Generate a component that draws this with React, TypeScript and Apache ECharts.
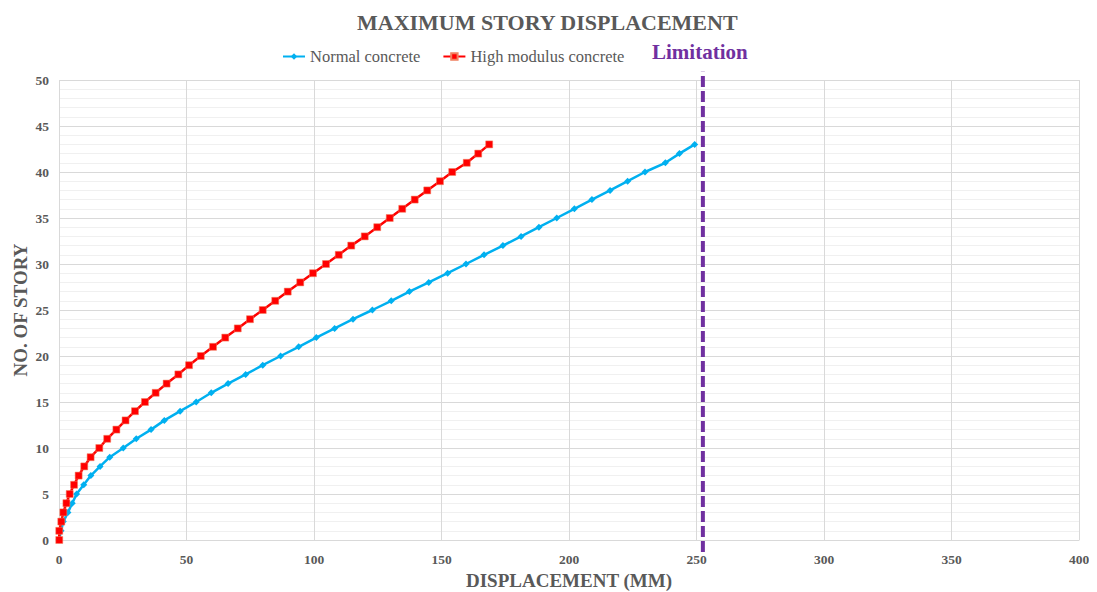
import React, { useEffect, useRef } from "react";
import * as echarts from "echarts";

const stories = [0,1,2,3,4,5,6,7,8,9,10,11,12,13,14,15,16,17,18,19,20,21,22,23,24,25,26,27,28,29,30,31,32,33,34,35,36,37,38,39,40,41,42,43];
const normalConcrete = [0,0.8,1.7,3.5,5.2,6.9,9.7,12.5,16.1,19.9,25.2,30.3,36.1,41.3,47.5,53.8,59.7,66.3,73.2,79.9,86.9,94.0,100.9,108.1,115.3,122.9,130.3,137.4,145.0,152.4,159.6,166.7,174.1,181.2,188.2,195.2,202.1,209.0,216.1,223.0,229.8,237.8,243.3,249.3];
const highModulus = [0.1,0.1,0.9,1.7,2.9,4.2,5.9,7.7,9.9,12.4,15.8,18.9,22.5,26.1,29.8,33.7,37.9,42.2,46.8,51.0,55.6,60.4,65.2,70.1,74.9,79.9,84.8,89.7,94.6,99.6,104.7,109.7,114.6,119.9,124.8,129.7,134.6,139.5,144.4,149.4,154.2,159.9,164.4,168.7];
const limitationValue = 252.5;
const limitationSpan = [-1.3, 50.9];

const SERIF = "'Liberation Serif', 'Times New Roman', serif";
const GREY = "#595959";

export default function App() {
  const ref = useRef<HTMLDivElement>(null);
  useEffect(() => {
    if (!ref.current) return;
    const chart = echarts.init(ref.current, undefined, { renderer: "svg" });
    chart.setOption({
      animation: false,
      backgroundColor: "#ffffff",
      title: {
        text: "MAXIMUM STORY DISPLACEMENT",
        left: 352,
        top: 6,
        textStyle: { fontFamily: SERIF, fontWeight: "bold", fontSize: 22, color: GREY },
      },
      legend: {
        left: 277,
        top: 43,
        itemWidth: 22,
        itemHeight: 8,
        itemGap: 22,
        textStyle: { fontFamily: SERIF, fontSize: 16.5, color: GREY },
        data: ["Normal concrete", "High modulus concrete"],
      },
      graphic: [
        {
          type: "text",
          left: 652,
          top: 41,
          style: { text: "Limitation", fontFamily: SERIF, fontWeight: "bold", fontSize: 21, fill: "#7030A0" },
        },
      ],
      grid: { left: 59, right: 18, top: 80, bottom: 52, outerBoundsMode: "none" } as any,
      xAxis: {
        type: "value",
        min: 0,
        max: 400,
        interval: 50,
        name: "DISPLACEMENT (MM)",
        nameLocation: "middle",
        nameGap: 31,
        nameTextStyle: { fontFamily: SERIF, fontWeight: "bold", fontSize: 19, color: GREY },
        axisLine: { show: true, lineStyle: { color: "#d9d9d9" } },
        axisTick: { show: false },
        axisLabel: { fontFamily: SERIF, fontWeight: "bold", fontSize: 13.5, color: GREY, margin: 12 },
        splitLine: { show: true, lineStyle: { color: "#d9d9d9" } },
      },
      yAxis: {
        type: "value",
        min: 0,
        max: 50,
        interval: 5,
        name: "NO. OF STORY",
        nameLocation: "middle",
        nameGap: 29,
        nameMoveOverlap: false,
        nameTextStyle: { fontFamily: SERIF, fontWeight: "bold", fontSize: 19, color: GREY },
        axisLine: { show: false },
        axisTick: { show: false },
        axisLabel: { fontFamily: SERIF, fontWeight: "bold", fontSize: 13.5, color: GREY, margin: 10 },
        splitLine: { show: true, lineStyle: { color: "#d9d9d9" } },
        minorTick: { show: false, splitNumber: 5 },
        minorSplitLine: { show: true, lineStyle: { color: "#f0f0f0" } },
      } as any,
      series: [
        {
          name: "Normal concrete",
          type: "line",
          data: stories.map((s, i) => [normalConcrete[i], s]),
          symbol: "diamond",
          symbolSize: 7,
          lineStyle: { color: "#00B0F0", width: 2.5 },
          itemStyle: { color: "#00B0F0" },
          z: 3,
        },
        {
          name: "High modulus concrete",
          type: "line",
          data: stories.map((s, i) => [highModulus[i], s]),
          symbol: "rect",
          symbolSize: 7,
          lineStyle: { color: "#FF0000", width: 2.5 },
          itemStyle: { color: "#FF0000", borderColor: "#F08060", borderWidth: 0.5 },
          z: 4,
        },
        {
          name: "Limitation",
          type: "line",
          data: limitationSpan.map((y) => [limitationValue, y]),
          symbol: "none",
          clip: false,
          lineStyle: { color: "#7030A0", width: 4, type: [11, 4] },
          z: 5,
        },
      ],
    });
    return () => chart.dispose();
  }, []);
  return <div ref={ref} style={{ width: 1097, height: 592, marginLeft: -8, marginTop: -8 }} />;
}
